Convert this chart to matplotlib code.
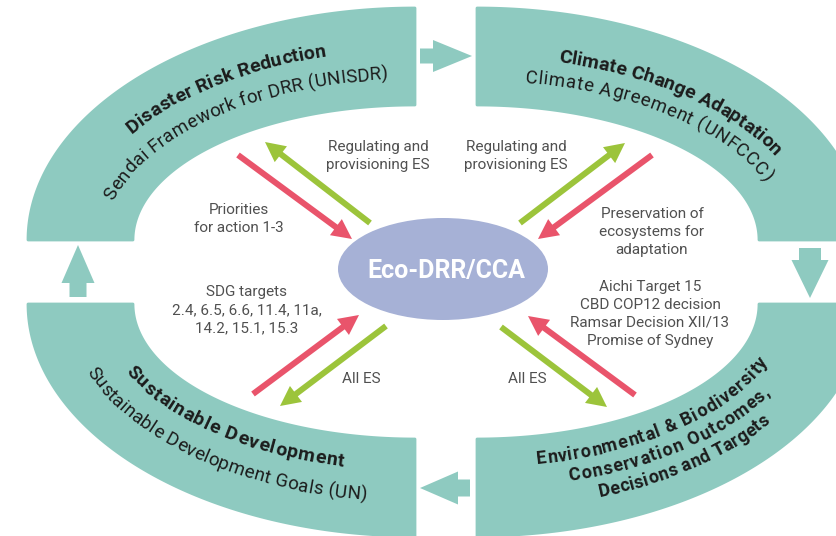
import numpy as np
import matplotlib
matplotlib.use("Agg")
import matplotlib.pyplot as plt
from matplotlib.path import Path
from matplotlib.patches import PathPatch, Ellipse, FancyArrow
from matplotlib.font_manager import FontProperties

W, H = 837, 536

TEAL = "#8ecac0"
RED = "#e9546b"
GREEN = "#9cc43b"
HUB = "#a6b1d6"
GREY = "#505050"
INK = "#1c1c1c"

# ring geometry in pixels: semi-axes of the outer and inner ellipse
OUTER = (387, 232)
INNER = (282, 135)

# quadrant -> (ellipse centre, start angle, end angle)
quadrants = {
    "DRR": ((415, 240), 90, 180),
    "CCA": ((477, 240), 0, 90),
    "SD": ((415, 304), 180, 270),
    "ENV": ((477, 304), 270, 360),
}

# curved titles: quadrant, text, bold, place in band (0 inner .. 1 outer), angle from, angle to
band_titles = [
    ("DRR", "Disaster Risk Reduction", True, 0.57, 146, 105),
    ("DRR", "Sendai Framework for DRR (UNISDR)", False, 0.27, 166, 95),
    ("CCA", "Climate Change Adaptation", True, 0.50, 76, 27),
    ("CCA", "Climate Agreement (UNFCCC)", False, 0.25, 81, 21),
    ("SD", "Sustainable Development", True, 0.33, 204, 257),
    ("SD", "Sustainable Development Goals (UN)", False, 0.65, 200, 262),
    ("ENV", "Environmental & Biodiversity", True, 0.29, 281, 339),
    ("ENV", "Conservation Outcomes,", True, 0.51, 286, 331),
    ("ENV", "Decisions and Targets", True, 0.73, 290, 325),
]
BOLD_SIZE = {"DRR": 14, "CCA": 14, "SD": 14, "ENV": 13}
PLAIN_SIZE = 13.5

# block arrows between the quadrants: x, y, dx, dy, width, head width, head length
cycle_arrows = [
    (420, 56, 52, 0, 15, 32, 39),
    (810, 248, 0, 50, 22, 37, 38),
    (470, 488, -50, 0, 17, 33, 38),
    (78, 297, 0, -52, 17, 33, 38),
]

# arrows to / from the hub
flow_from = [(238, 155), (370, 223), (520, 223), (652, 155),
             (253, 394), (386, 326), (501, 327), (635, 395)]
flow_to = [(352, 239), (265, 142), (625, 143), (538, 239),
           (359, 315), (280, 406), (607, 407), (528, 316)]
flow_colors = [RED, GREEN, GREEN, RED, RED, GREEN, GREEN, RED]

# labels next to the arrows
labels = [
    "Regulating and\nprovisioning ES",
    "Regulating and\nprovisioning ES",
    "Priorities\nfor action 1-3",
    "Preservation of\necosystems for\nadaptation",
    "SDG targets\n2.4, 6.5, 6.6, 11.4, 11a,\n14.2, 15.1, 15.3",
    "All ES",
    "All ES",
    "Aichi Target 15\nCBD COP12 decision\nRamsar Decision XII/13\nPromise of Sydney",
]
label_xy = [(378, 156), (516, 156), (239, 219), (652, 232),
            (247, 310), (361, 379), (527, 379), (650, 314)]

hub_text = "Eco-DRR/CCA"


def ellipse_pts(c, a, b, t):
    return c[0] + a * np.cos(t), c[1] - b * np.sin(t)


def band_patch(c, t0, t1):
    t = np.radians(np.linspace(t0, t1, 150))
    ox, oy = ellipse_pts(c, *OUTER, t)
    ix, iy = ellipse_pts(c, *INNER, t[::-1])
    xs = np.r_[ox, ix, ox[0]]
    ys = np.r_[oy, iy, oy[0]]
    codes = [Path.MOVETO] + [Path.LINETO] * (len(xs) - 2) + [Path.CLOSEPOLY]
    return PathPatch(Path(np.column_stack([xs, ys]), codes), facecolor=TEAL,
                     edgecolor=TEAL, lw=2, joinstyle="round")


def curved_text(ax, rend, s, c, a, b, t0, t1, bold, size):
    ts = np.radians(np.linspace(t0, t1, 600))
    x, y = ellipse_pts(c, a, b, ts)
    cum = np.r_[0, np.cumsum(np.hypot(np.diff(x), np.diff(y)))]
    fp = FontProperties(family="Roboto", weight="bold" if bold else "normal", size=size)

    def width(txt):
        return rend.get_text_width_height_descent(txt, fp, ismath=False)[0]

    bar = width("|")
    edges = np.array([width(s[:i] + "|") - bar for i in range(len(s) + 1)])
    # spread the letters so the line fills the arc
    track = (cum[-1] - edges[-1]) / (len(s) - 1)
    mids = (edges[:-1] + edges[1:]) / 2 + track * np.arange(len(s))
    step = 1e-3 * np.sign(t1 - t0)
    for ch, m in zip(s, mids):
        if ch == " ":
            continue
        t = np.interp(m, cum, ts)
        px, py = ellipse_pts(c, a, b, t)
        qx, qy = ellipse_pts(c, a, b, t + step)
        ang = np.degrees(np.arctan2(-(qy - py), qx - px))
        ax.text(px, py, ch, fontproperties=fp, rotation=ang, rotation_mode="anchor",
                ha="center", va="baseline", color=INK)


fig = plt.figure(figsize=(W / 100, H / 100), dpi=100)
ax = fig.add_axes([0, 0, 1, 1])
ax.set_xlim(0, W)
ax.set_ylim(H, 0)
ax.axis("off")
rend = fig.canvas.get_renderer()

for c, t0, t1 in quadrants.values():
    ax.add_patch(band_patch(c, t0, t1))

for x, y, dx, dy, w, hw, hl in cycle_arrows:
    ax.add_patch(FancyArrow(x, y, dx, dy, width=w, head_width=hw, head_length=hl,
                            length_includes_head=True, color=TEAL, lw=0))

for q, s, bold, f, t0, t1 in band_titles:
    c = quadrants[q][0]
    a = INNER[0] + f * (OUTER[0] - INNER[0])
    b = INNER[1] + f * (OUTER[1] - INNER[1])
    size = BOLD_SIZE[q] if bold else PLAIN_SIZE
    curved_text(ax, rend, s, c, a, b, t0, t1, bold, size)

ax.add_patch(Ellipse((443, 269), 210, 102, color=HUB, lw=0))
ax.text(446, 271, hub_text, ha="center", va="center", color="white",
        family="Roboto", weight="bold", fontsize=18)

for (x0, y0), (x1, y1), col in zip(flow_from, flow_to, flow_colors):
    ax.add_patch(FancyArrow(x0, y0, x1 - x0, y1 - y0, width=6, head_width=20,
                            head_length=20, length_includes_head=True, color=col, lw=0))

for s, (x, y) in zip(labels, label_xy):
    ax.text(x, y, s, ha="center", va="center", multialignment="center", color=GREY,
            family="Roboto", fontsize=11, linespacing=1.35)

fig.savefig("out.png", dpi=100)
